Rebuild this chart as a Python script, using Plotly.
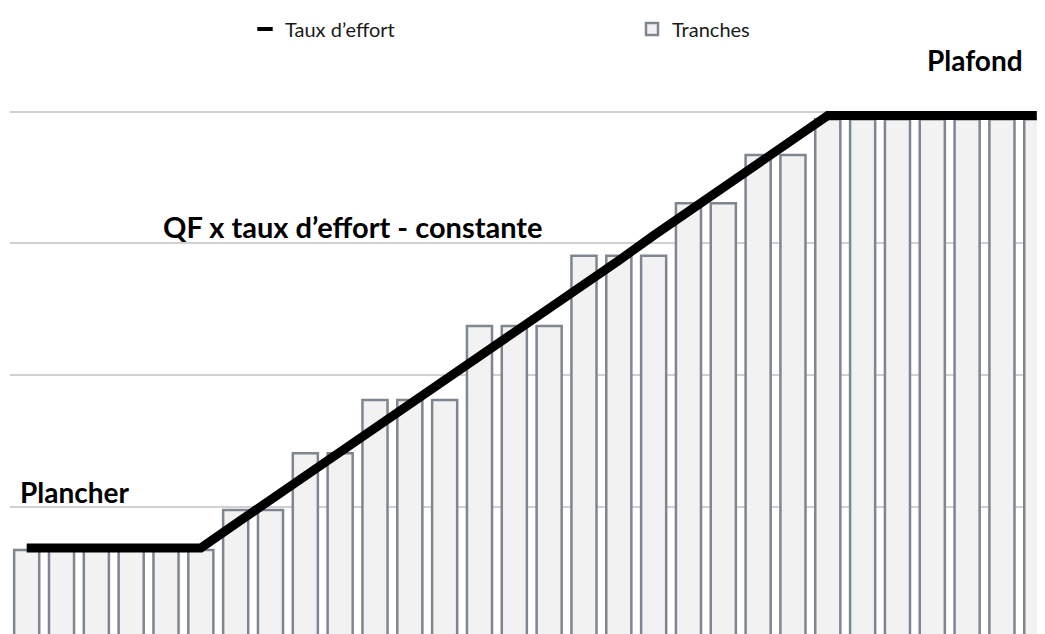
import plotly.graph_objects as go

# ---- data ----
tranches = [f"T{i+1}" for i in range(30)]
bar_values = [67.1, 67.1, 67.1, 67.1, 67.1, 67.1,
              97.5, 97.5,
              140.5, 140.5,
              181.0, 181.0, 181.0,
              237.2, 237.2, 237.2,
              290.6, 290.6, 290.6,
              330.4, 330.4,
              367.1, 367.1,
              394.2, 394.2, 394.2, 394.2, 394.2, 394.2, 394.2]
taux_effort = [68.6, 68.6, 68.6, 68.6, 68.6, 68.6,
               87, 105, 123, 141, 160, 178, 196, 214, 233, 251, 269, 287,
               306, 324, 342, 360, 379,
               397.1, 397.1, 397.1, 397.1, 397.1, 397.1, 397.1]
legend_names = ["Taux d’effort", "Tranches"]
labels = {"plafond": "Plafond",
          "formule": "QF x taux d’effort - constante",
          "plancher": "Plancher"}

OFF = 8                # page body margin
W, H = 1045 - OFF, 634 - OFF
ML = 10 - OFF

fig = go.Figure()

fig.add_trace(go.Bar(
    x=tranches, y=bar_values, name=legend_names[1],
    width=0.72,
    marker=dict(color="#F2F2F2", line=dict(color="#7F868F", width=2.5)),
    legendrank=2,
))
fig.add_trace(go.Scatter(
    x=tranches, y=taux_effort, mode="lines", showlegend=False,
    line=dict(color="black", width=9),
))
fig.add_trace(go.Scatter(
    x=[None], y=[None], mode="markers", name=legend_names[0],
    marker=dict(symbol="line-ew", size=11, color="black",
                line=dict(color="black", width=4)),
    legendrank=1,
))


def px(xs):
    return (xs - OFF - ML) / (W - ML)


def py(ys):
    return 1 - (ys - OFF) / H


bold = dict(family="Lato", size=28, color="black")
fig.add_annotation(x=px(1025), y=py(60), xref="paper", yref="paper",
                   text="<b>" + labels["plafond"] + "</b>", showarrow=False,
                   xanchor="right", yanchor="middle", font=bold)
fig.add_annotation(x=px(161), y=py(227), xref="paper", yref="paper",
                   text="<b>" + labels["formule"] + "</b>", showarrow=False,
                   xanchor="left", yanchor="middle",
                   font=dict(family="Lato", size=29, color="black"))
fig.add_annotation(x=px(18), y=py(492), xref="paper", yref="paper",
                   text="<b>" + labels["plancher"] + "</b>", showarrow=False,
                   xanchor="left", yanchor="middle", font=bold)

fig.update_layout(
    width=W, height=H,
    margin=dict(l=ML, r=0, t=0, b=0),
    paper_bgcolor="white", plot_bgcolor="white",
    showlegend=True,
    legend=dict(orientation="h", x=px(245), y=py(29), xanchor="left",
                yanchor="middle", font=dict(family="Lato", size=20, color="#1a1a1a"),
                entrywidth=342, traceorder="normal", bgcolor="rgba(0,0,0,0)"),
    xaxis=dict(range=[-0.479, 29.236], showticklabels=False, showgrid=False,
               zeroline=False, showline=False, ticks=""),
    yaxis=dict(range=[3.27, 478.8], showticklabels=False, showgrid=True,
               gridcolor="#D0D0D0", gridwidth=1.5, dtick=100, tick0=0,
               zeroline=False, showline=False, ticks=""),
)

fig.write_html("out.html")
